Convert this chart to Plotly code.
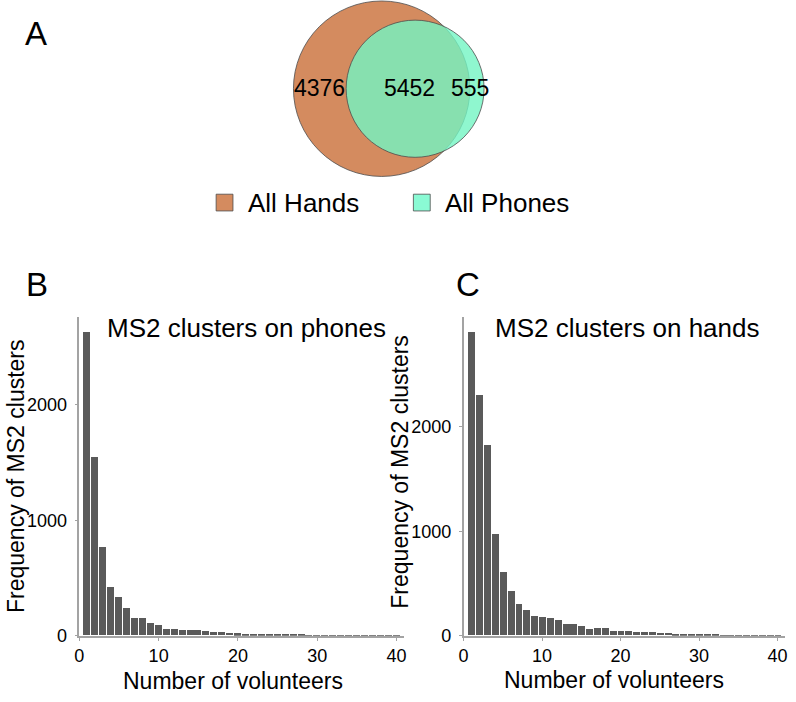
import math
import plotly.graph_objects as go

# ---------------- data ----------------
venn_sets = ["All Hands", "All Phones"]
hands_only = 4376
both_sets = 5452
phones_only = 555

volunteers = list(range(1, 41))
phones_counts = [2626, 1544, 763, 423, 332, 237, 151, 151, 111, 92,
                 57, 54, 51, 49, 43, 34, 28, 26, 23, 17,
                 15, 11, 9, 6, 11, 5, 4, 4, 3, 3,
                 3, 2, 2, 2, 2, 2, 1, 1, 1, 1]
hands_counts = [2899, 2305, 1821, 969, 604, 425, 299, 242, 189, 173,
                163, 145, 110, 110, 92, 66, 75, 69, 45, 38,
                38, 32, 32, 35, 21, 25, 12, 9, 9, 12,
                6, 4, 3, 3, 2, 2, 2, 1, 1, 1]
x_ticks = [0, 10, 20, 30, 40]
y_ticks = [0, 1000, 2000]
panel_titles = ["MS2 clusters on phones", "MS2 clusters on hands"]
x_title = "Number of volunteers"
y_title = "Frequency of MS2 clusters"

# ---------------- layout helpers ----------------
W, H = 796, 702
FONT = "Liberation Sans, Arial, sans-serif"


def fx(px):
    return px / W


def fy(py):
    return 1 - py / H


fig = go.Figure()

bar_color = "#5a5a5a"
fig.add_trace(go.Bar(x=volunteers, y=phones_counts, width=0.88,
                     marker=dict(color=bar_color, line=dict(width=0)),
                     xaxis="x", yaxis="y", showlegend=False))
fig.add_trace(go.Bar(x=volunteers, y=hands_counts, width=0.88,
                     marker=dict(color=bar_color, line=dict(width=0)),
                     xaxis="x2", yaxis="y2", showlegend=False))

axis_common = dict(showline=True, linecolor="#a3a3a3", linewidth=1.5,
                   ticks="outside", ticklen=3, tickcolor="#a3a3a3", tickwidth=1,
                   showgrid=False, zeroline=False,
                   tickfont=dict(family=FONT, size=18, color="black"))

y_top, y_bot = 322, 645
fig.update_layout(
    width=W, height=H, autosize=False,
    margin=dict(l=0, r=0, t=0, b=0),
    paper_bgcolor="white", plot_bgcolor="white",
    bargap=0,
    xaxis=dict(domain=[fx(75), fx(403)], range=[0, 41], tickvals=x_ticks,
               anchor="y", **axis_common),
    yaxis=dict(domain=[fy(y_bot), fy(y_top)], range=[0, 2755], tickvals=y_ticks,
               anchor="x", ticklabelstandoff=4, **axis_common),
    xaxis2=dict(domain=[fx(462.6), fx(787.3)], range=[0, 41], tickvals=x_ticks,
                anchor="y2", **axis_common),
    yaxis2=dict(domain=[fy(y_bot), fy(y_top)], range=[0, 3047], tickvals=y_ticks,
                anchor="x2", ticklabelstandoff=4, **axis_common),
)

ann = []


def text(px, py, s, size, xanchor="center", yanchor="middle", angle=0):
    ann.append(dict(x=fx(px), y=fy(py), xref="paper", yref="paper", text=s,
                    showarrow=False, xanchor=xanchor, yanchor=yanchor,
                    textangle=angle, font=dict(family=FONT, size=size, color="black")))


# panel letters
text(18, 34, "A", 33, xanchor="left")
text(19, 289, "B", 33, xanchor="left")
text(453, 289, "C", 33, xanchor="left")

# histogram titles
text(244, 333, panel_titles[0], 26)
text(628, 333, panel_titles[1], 26)
text(230, 691, x_title, 23)
text(614, 690, x_title, 23)
text(11, 483, y_title, 23, angle=-90)
text(399, 478, y_title, 23, angle=-90)

# ---------------- Venn diagram (area-proportional) ----------------
hands_total = hands_only + both_sets
phones_total = phones_only + both_sets
r1 = 89.0
r2 = r1 * math.sqrt(phones_total / hands_total)
target = both_sets / hands_total * math.pi * r1 ** 2


def lens(d):
    if d >= r1 + r2:
        return 0.0
    if d <= abs(r1 - r2):
        return math.pi * min(r1, r2) ** 2
    a1 = math.acos((d * d + r1 * r1 - r2 * r2) / (2 * d * r1))
    a2 = math.acos((d * d + r2 * r2 - r1 * r1) / (2 * d * r2))
    k = math.sqrt((-d + r1 + r2) * (d + r1 - r2) * (d - r1 + r2) * (d + r1 + r2))
    return r1 * r1 * a1 + r2 * r2 * a2 - 0.5 * k


lo, hi = abs(r1 - r2) + 1e-6, r1 + r2
for _ in range(80):
    mid = (lo + hi) / 2
    if lens(mid) > target:
        lo = mid
    else:
        hi = mid
d = (lo + hi) / 2

cx1, cy = 380.0, 90.0
cx2 = cx1 + d

orange = "rgb(212,139,95)"
green_fill = "rgba(115,245,195,0.8)"
outline = dict(color="#4d4d4d", width=0.8)
shapes = [
    dict(type="circle", xref="paper", yref="paper",
         x0=fx(cx1 - r1), x1=fx(cx1 + r1), y0=fy(cy + r1), y1=fy(cy - r1),
         fillcolor=orange, line=outline, layer="above"),
    dict(type="circle", xref="paper", yref="paper",
         x0=fx(cx2 - r2), x1=fx(cx2 + r2), y0=fy(cy + r2), y1=fy(cy - r2),
         fillcolor=green_fill, line=outline, layer="above"),
]

text(((cx1 - r1) + (cx2 - r2)) / 2, 89, str(hands_only), 23)
text(((cx2 - r2) + (cx1 + r1)) / 2 + 2, 89, str(both_sets), 23)
text(469, 89, str(phones_only), 23)

# legend
sw = [(213, 197, orange), (412, 197, "rgb(138,250,212)")]
for (sx, sy, col), lab in zip(sw, venn_sets):
    shapes.append(dict(type="rect", xref="paper", yref="paper",
                       x0=fx(sx), x1=fx(sx + 17), y0=fy(sy + 17), y1=fy(sy),
                       fillcolor=col, line=dict(color="#4d4d4d", width=0.8)))
    text(sx + 30, sy + 8.5, lab, 26, xanchor="left")

fig.update_layout(shapes=shapes, annotations=ann)
fig.write_html("out.html", config={"displayModeBar": False},
               post_script="document.body.style.margin='0';document.body.style.overflow='hidden';")
